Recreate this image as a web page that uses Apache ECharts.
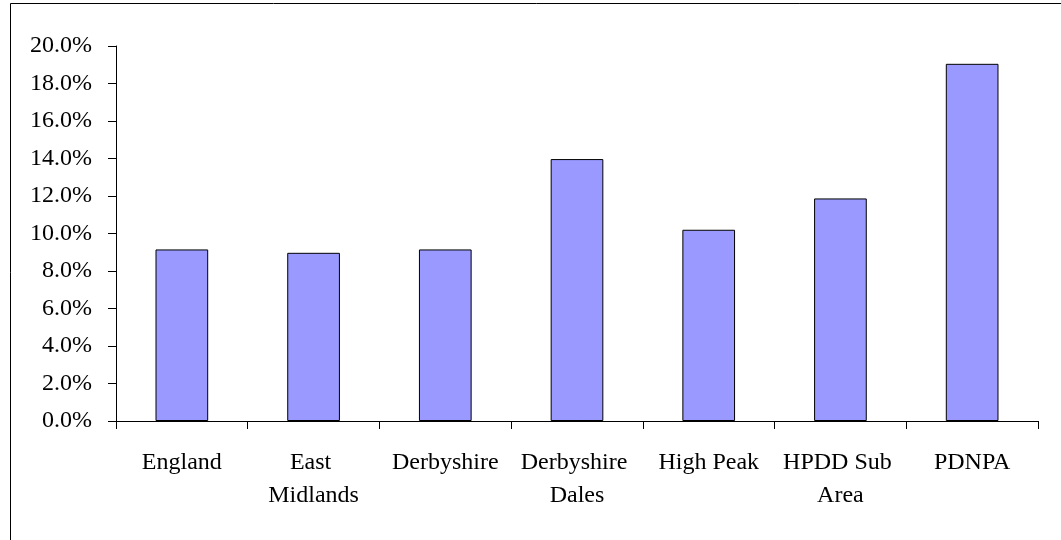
<!DOCTYPE html>
<html>
<head>
<meta charset="utf-8">
<script src="https://cdn.jsdelivr.net/npm/echarts@6/dist/echarts.min.js"></script>
<style>
  html, body { margin: 0; padding: 0; background: #fff; }
  #chart { width: 1061px; height: 540px; }
</style>
</head>
<body>
<div id="chart"></div>
<script>
// Area names along the category axis
const areas = ['England', 'East Midlands', 'Derbyshire', 'Derbyshire Dales', 'High Peak', 'HPDD Sub Area', 'PDNPA'];
// Share per area, in percent
const shares = [9.15, 8.97, 9.15, 13.97, 10.2, 11.87, 19.05];
// Value axis range and step, in percent
const axisMin = 0;
const axisMax = 20;
const axisStep = 2;

const chart = echarts.init(document.getElementById('chart'), null, { renderer: 'canvas' });
const serif = '"Liberation Serif", "DejaVu Serif", serif';

chart.setOption({
  animation: false,
  backgroundColor: '#fff',
  graphic: [{
    type: 'rect',
    left: 8, top: 1,
    shape: { width: 1100, height: 600 },
    style: { fill: 'none', stroke: '#000', lineWidth: 1 },
    silent: true
  }],
  grid: { left: 116, right: 23, top: 46, bottom: 119, containLabel: false },
  xAxis: {
    type: 'category',
    data: areas,
    axisLine: { lineStyle: { color: '#000', width: 1 } },
    axisTick: { show: true, length: 8, alignWithLabel: false, lineStyle: { color: '#000' } },
    axisLabel: {
      interval: 0,
      margin: 25,
      fontFamily: serif,
      fontSize: 24,
      color: '#000',
      lineHeight: 33,
      width: 125,
      overflow: 'break'
    }
  },
  yAxis: {
    type: 'value',
    min: axisMin,
    max: axisMax,
    interval: axisStep,
    axisLine: { show: true, lineStyle: { color: '#000', width: 1 } },
    axisTick: { show: true, length: 8, lineStyle: { color: '#000' } },
    splitLine: { show: false },
    axisLabel: {
      margin: 24,
      fontFamily: serif,
      fontSize: 24,
      color: '#000',
      formatter: v => v.toFixed(1) + '%'
    }
  },
  series: [{
    type: 'bar',
    data: shares,
    barWidth: '40%',
    itemStyle: { color: '#9999ff', borderColor: '#000', borderWidth: 1 }
  }]
});
</script>
</body>
</html>
